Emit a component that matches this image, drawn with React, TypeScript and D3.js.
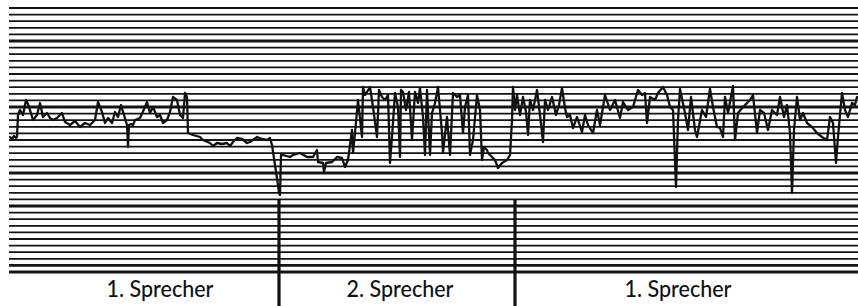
import React from "react";
import * as d3 from "d3";

// time in seconds (x), pitch reading in grid units (v = height above bottom line)
const trace: [number, number][] = [
  [0.10,135],[0.12,133],[0.14,136],[0.16,134],[0.17,135],[0.18,157],[0.20,162],[0.23,157],[0.26,172],[0.28,168],
  [0.30,162],[0.33,152],[0.37,157],[0.40,169],[0.43,155],[0.47,159],[0.50,154],[0.53,152],[0.57,154],[0.62,159],
  [0.65,150],[0.70,147],[0.75,151],[0.80,145],[0.85,149],[0.90,147],[0.95,152],[0.98,170],[1.02,160],[1.05,149],
  [1.08,154],[1.12,149],[1.15,160],[1.18,155],[1.21,167],[1.24,157],[1.27,147],[1.28,125],[1.29,147],[1.31,148],
  [1.33,147],[1.35,152],[1.40,154],[1.45,165],[1.47,170],[1.50,159],[1.53,165],[1.57,155],[1.60,157],[1.63,149],
  [1.67,152],[1.70,160],[1.73,175],[1.77,172],[1.80,157],[1.83,154],[1.85,179],[1.87,175],[1.88,139],[1.93,137],
  [2.00,135],[2.03,132],[2.10,129],[2.13,126],[2.17,129],[2.22,128],[2.27,129],[2.30,126],[2.33,130],[2.37,134],
  [2.42,133],[2.47,129],[2.50,130],[2.57,135],[2.62,133],[2.67,132],[2.70,134],[2.72,127],[2.75,107],[2.78,87],
  [2.79,79],[2.80,77],[2.81,117],[2.83,117],[2.90,115],[2.93,117],[3.00,119],[3.07,115],[3.13,115],[3.17,122],
  [3.18,110],[3.23,109],[3.24,100],[3.26,109],[3.32,110],[3.37,115],[3.42,114],[3.45,105],[3.48,112],[3.50,127],
  [3.52,142],[3.53,119],[3.55,139],[3.58,172],[3.62,135],[3.63,185],[3.65,177],[3.67,180],[3.70,185],[3.73,165],
  [3.77,135],[3.79,182],[3.82,175],[3.85,172],[3.88,177],[3.90,109],[3.92,135],[3.95,179],[3.98,165],[4.00,115],
  [4.01,182],[4.03,180],[4.06,162],[4.09,180],[4.12,132],[4.15,180],[4.18,169],[4.20,184],[4.23,155],[4.25,117],
  [4.27,182],[4.30,117],[4.32,159],[4.35,169],[4.38,185],[4.42,139],[4.43,120],[4.47,155],[4.50,117],[4.53,179],
  [4.57,175],[4.60,177],[4.63,139],[4.65,165],[4.68,177],[4.70,117],[4.73,132],[4.77,177],[4.80,162],[4.82,112],
  [4.84,125],[4.87,122],[4.88,119],[4.92,115],[4.95,112],[4.98,104],[5.02,109],[5.07,112],[5.10,117],[5.12,152],
  [5.13,185],[5.15,162],[5.17,177],[5.20,157],[5.23,175],[5.26,160],[5.28,137],[5.30,172],[5.33,162],[5.37,182],
  [5.40,157],[5.43,130],[5.45,172],[5.48,162],[5.52,175],[5.56,157],[5.59,167],[5.62,184],[5.65,164],[5.67,155],
  [5.70,157],[5.73,144],[5.77,155],[5.82,140],[5.85,157],[5.88,147],[5.93,139],[5.97,162],[6.00,147],[6.05,177],
  [6.10,162],[6.15,172],[6.20,154],[6.23,170],[6.28,162],[6.33,165],[6.38,182],[6.42,177],[6.45,179],[6.47,149],
  [6.50,175],[6.55,172],[6.58,179],[6.63,185],[6.67,177],[6.70,165],[6.73,162],[6.76,85],[6.78,152],[6.80,183],
  [6.85,159],[6.88,142],[6.91,175],[6.95,142],[6.97,135],[7.02,162],[7.06,155],[7.10,183],[7.13,165],[7.17,145],
  [7.20,144],[7.23,135],[7.25,175],[7.28,159],[7.33,186],[7.35,132],[7.38,159],[7.43,165],[7.47,169],[7.50,172],
  [7.53,177],[7.57,139],[7.60,162],[7.64,159],[7.68,142],[7.72,162],[7.77,157],[7.80,175],[7.84,155],[7.87,167],
  [7.90,139],[7.92,79],[7.94,142],[7.97,175],[8.00,152],[8.03,159],[8.07,149],[8.12,145],[8.17,139],[8.22,135],
  [8.27,132],[8.30,155],[8.33,149],[8.36,109],[8.38,135],[8.42,179],[8.45,162],[8.48,155],[8.52,169],[8.55,167],
  [8.57,175],
];

const gridCount = 41;
const gridStep = 6.6;
const thickGrid = [0, 1, 10, 15, 25, 35];
const separators = [2.79, 5.15];
const separatorTop = 73;
const speakerLabels = ["1. Sprecher", "2. Sprecher", "1. Sprecher"];
const labelTimes = [1.60, 4.0, 6.78];

const W = 858;
const H = 306;

export default function App() {
  const x = d3.scaleLinear().domain([0, 8.58]).range([0, 858]);
  const y = d3.scaleLinear().domain([0, 264]).range([272, 8]);
  const gridVals = d3.range(gridCount).map((i) => i * gridStep);
  const line = d3
    .line<[number, number]>()
    .x((d) => x(d[0]))
    .y((d) => y(d[1]))
    .curve(d3.curveLinear);

  return (
    <div style={{ position: "fixed", left: 0, top: 0 }}>
      <svg width={W} height={H} style={{ display: "block", background: "#fff" }}>
        <rect width={W} height={H} fill="#fff" />
        {gridVals.map((v, i) => (
          <line
            key={i}
            x1={x(0.09)}
            x2={W}
            y1={y(v)}
            y2={y(v)}
            stroke="#141414"
            strokeWidth={thickGrid.includes(i) ? 2.8 : 1.8}
          />
        ))}
        {separators.map((t, i) => (
          <line
            key={i}
            x1={x(t)}
            x2={x(t)}
            y1={y(separatorTop)}
            y2={H}
            stroke="#111"
            strokeWidth={3.2}
          />
        ))}
        <path
          d={line(trace) || ""}
          fill="none"
          stroke="#111"
          strokeWidth={2.3}
          strokeLinejoin="round"
          strokeLinecap="round"
        />
        {speakerLabels.map((s, i) => (
          <text
            key={i}
            x={x(labelTimes[i])}
            y={297}
            textAnchor="middle"
            fontFamily="Lato, 'Open Sans', sans-serif"
            fontWeight={500}
            fontSize={22.5}
            textLength={107}
            lengthAdjust="spacingAndGlyphs"
            fill="#111"
          >
            {s}
          </text>
        ))}
      </svg>
    </div>
  );
}
